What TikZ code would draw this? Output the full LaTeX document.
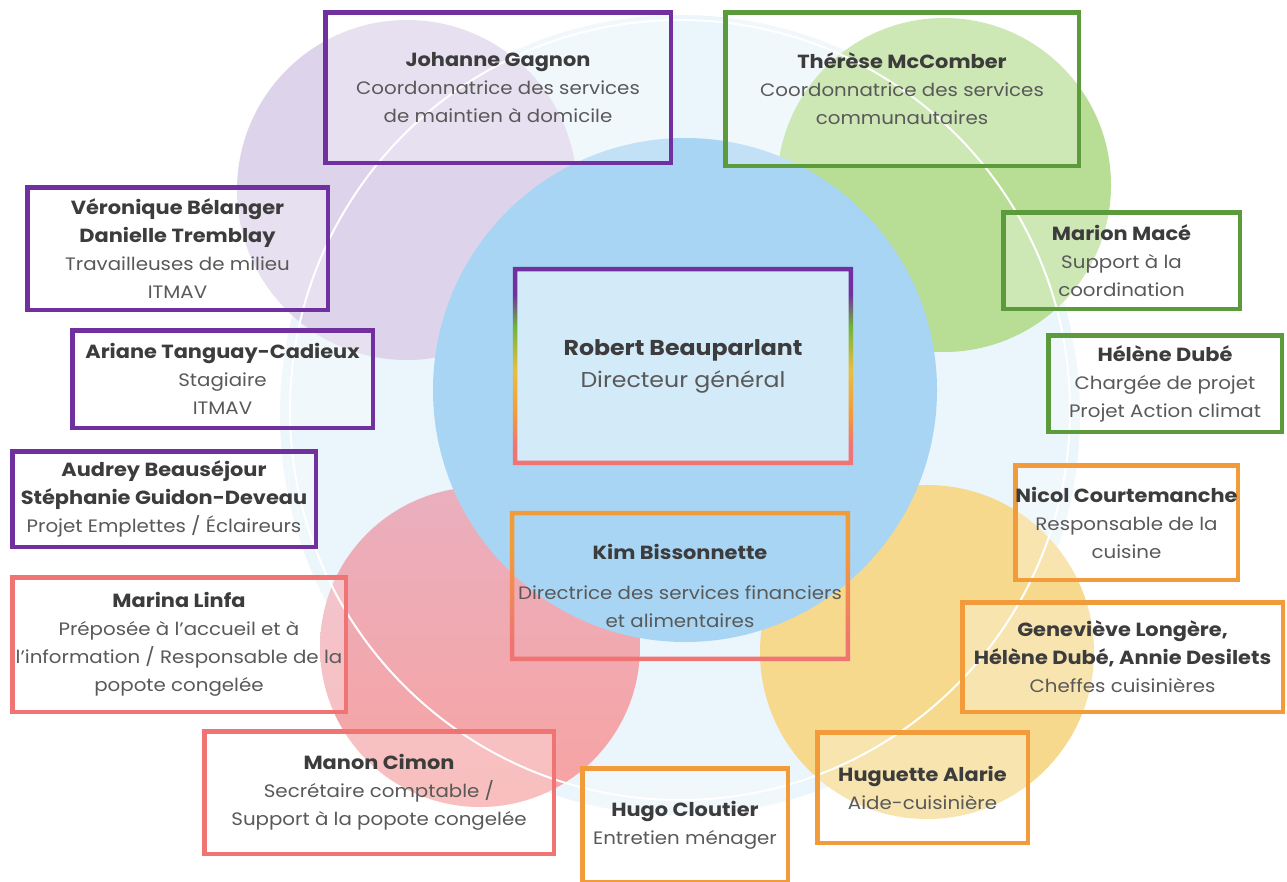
\documentclass[tikz,border=0pt]{standalone}
\usepackage{fontspec}
\setmainfont{Poppins}[FakeStretch=1.1]
\definecolor{frameviolet}{HTML}{7030A0}
\definecolor{framegreen}{HTML}{6FB43A}
\definecolor{frameyellow}{HTML}{E9BE3E}
\definecolor{frameorange}{HTML}{F29B3A}
\definecolor{framesalmon}{HTML}{F07474}
\definecolor{boxgreen}{HTML}{5B9B3B}
\definecolor{namegray}{HTML}{3C3C3C}
\definecolor{rolegray}{HTML}{595959}
\definecolor{palebg}{HTML}{EBF5FC}
\definecolor{petalviolet}{HTML}{DDD3EA}
\definecolor{petalgreen}{HTML}{B8DD95}
\definecolor{petalrose}{HTML}{EAAFBE}
\definecolor{petalred}{HTML}{F7A3A2}
\definecolor{petalyellow}{HTML}{F6D98D}
\definecolor{hubblue}{HTML}{A8D5F3}
\pgfdeclareverticalshading{dgframe}{100bp}{color(0bp)=(framesalmon); color(30bp)=(framesalmon); color(38bp)=(frameorange); color(49bp)=(frameyellow); color(60bp)=(framegreen); color(68bp)=(frameviolet); color(100bp)=(frameviolet)}
\pgfdeclareverticalshading{kimframe}{100bp}{color(0bp)=(framesalmon); color(32bp)=(framesalmon); color(62bp)=(frameorange); color(100bp)=(frameorange)}
\newcommand\nm[1]{\textcolor{namegray}{\fontsize{19}{28}\selectfont\bfseries #1}}
\begin{document}
\begin{tikzpicture}[x=1pt,y=-1pt,
    core/.style={fill=white, fill opacity=.3, text opacity=1, align=center,
      inner sep=0pt, text=rolegray, font=\fontsize{18}{28}\selectfont},
    card/.style={core, draw, line width=4.5pt},
    vcard/.style={card, draw=frameviolet},
    gcard/.style={card, draw=boxgreen},
    ocard/.style={card, draw=frameorange},
    scard/.style={card, draw=framesalmon}]
  \useasboundingbox (0,0) rectangle (1287,881);
  \clip (0,0) rectangle (1287,881);
  \fill[white] (0,0) rectangle (1287,881);

  % background discs
  \fill[palebg] (680,415) circle [radius=400];
  \fill[petalviolet] (407,190) circle [radius=170];
  \fill[petalgreen] (944,185) circle [radius=167];
  \shade[top color=petalrose, bottom color=petalred] (480,647) circle [radius=160];
  \fill[petalyellow] (927,652) circle [radius=167];
  \draw[white, line width=2pt] (680,410) circle [radius=390];
  \fill[hubblue] (685,390) circle [radius=252];

  % boxes
  \node[vcard, minimum width=345.5pt, minimum height=150.5pt] (johanne) at (498,87.5)
    {\nm{Johanne Gagnon}\\Coordonnatrice des services\\de maintien à domicile};
  \node[gcard, minimum width=353.5pt, minimum height=153.5pt] (therese) at (902,89)
    {\nm{Thérèse McComber}\\Coordonnatrice des services\\communautaires};
  \node[vcard, minimum width=300.5pt, minimum height=122.5pt] (veronique) at (177.5,248.5)
    {\nm{Véronique Bélanger}\\\nm{Danielle Tremblay}\\Travailleuses de milieu\\ITMAV};
  \node[vcard, minimum width=300.5pt, minimum height=97.5pt] (ariane) at (222.5,379)
    {\nm{Ariane Tanguay-Cadieux}\\Stagiaire\\ITMAV};
  \node[vcard, minimum width=303.5pt, minimum height=95.5pt] (audrey) at (164,499)
    {\nm{Audrey Beauséjour}\\\nm{Stéphanie Guidon-Deveau}\\Projet Emplettes / Éclaireurs};
  \node[scard, minimum width=333.5pt, minimum height=134.5pt] (marina) at (179,644.5)
    {\nm{Marina Linfa}\\Préposée à l'accueil et à\\l'information / Responsable de la\\popote congelée};
  \node[scard, minimum width=349.5pt, minimum height=122.5pt] (manon) at (379,792.5)
    {\nm{Manon Cimon}\\Secrétaire comptable /\\Support à la popote congelée};
  \node[ocard, minimum width=205.5pt, minimum height=113.5pt] (hugo) at (685,825)
    {\nm{Hugo Cloutier}\\Entretien ménager};
  \node[gcard, minimum width=236.5pt, minimum height=96.5pt] (marion) at (1121.5,260.5)
    {\nm{Marion Macé}\\Support à la\\coordination};
  \node[gcard, minimum width=233.5pt, minimum height=96.5pt] (helene) at (1165,383.5)
    {\nm{Hélène Dubé}\\Chargée de projet\\Projet Action climat};
  \node[ocard, minimum width=222.5pt, minimum height=114.5pt] (nicol) at (1126.5,522.5)
    {\nm{Nicol Courtemanche}\\Responsable de la\\cuisine};
  \node[ocard, minimum width=320.5pt, minimum height=109.5pt] (genevieve) at (1122.5,657)
    {\nm{Geneviève Longère,}\\\nm{Hélène Dubé, Annie Desilets}\\Cheffes cuisinières};
  \node[ocard, minimum width=210.5pt, minimum height=110.5pt] (huguette) at (922.5,787.5)
    {\nm{Huguette Alarie}\\Aide-cuisinière};

  % director boxes with graded frames
  \node[core, fill opacity=.5, minimum width=335.5pt, minimum height=193.5pt,
    font=\fontsize{21.5}{32}\selectfont] (robert) at (683,366)
    {\textcolor{namegray}{\bfseries Robert Beauparlant}\\Directeur général};
  \shade[shading=dgframe, even odd rule]
    ([shift={(-2.25pt,2.25pt)}]robert.north west) rectangle ([shift={(2.25pt,-2.25pt)}]robert.south east)
    ([shift={(2.25pt,-2.25pt)}]robert.north west) rectangle ([shift={(-2.25pt,2.25pt)}]robert.south east);
  \node[core, fill=none, minimum width=335.5pt, minimum height=145.5pt] (kim) at (680,586)
    {\nm{Kim Bissonnette}\\[12pt]Directrice des services financiers\\et alimentaires};
  \shade[shading=kimframe, even odd rule]
    ([shift={(-2.25pt,2.25pt)}]kim.north west) rectangle ([shift={(2.25pt,-2.25pt)}]kim.south east)
    ([shift={(2.25pt,-2.25pt)}]kim.north west) rectangle ([shift={(-2.25pt,2.25pt)}]kim.south east);
\end{tikzpicture}
\end{document}
